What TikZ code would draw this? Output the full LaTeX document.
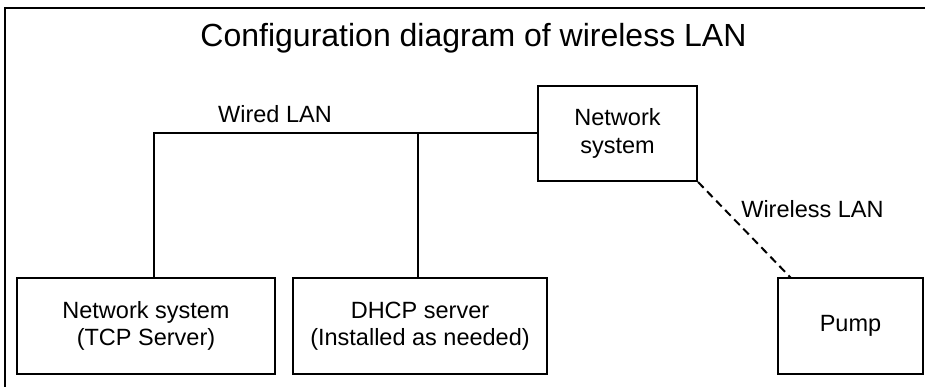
\documentclass[tikz,border=0pt]{standalone}
\usepackage{fontspec}
\setmainfont{Liberation Sans}
\begin{document}
\begin{tikzpicture}[x=1pt,y=-1pt,
  box/.style={draw,line width=2pt,inner sep=0pt,align=center,
    font=\fontsize{23.5}{27.5}\selectfont},
  lbl/.style={inner sep=0pt,anchor=base,font=\fontsize{23.5}{27}\selectfont},
  wire/.style={line width=2pt},
  radio/.style={line width=2pt,dash pattern=on 8pt off 5pt}]
\useasboundingbox (0,0) rectangle (925,387);
\draw[line width=2pt] (5,8) rectangle (940,400);
\node[lbl,font=\fontsize{32}{36}\selectfont] (title) at (473.5,47) {Configuration diagram of wireless LAN};
\node[box,minimum width=159pt,minimum height=95pt] (top) at (617.5,133.5) {Network\\system};
\node[box,minimum width=258pt,minimum height=96pt] (b1) at (146,326) {Network system\\(TCP Server)};
\node[box,minimum width=254pt,minimum height=96pt] (b2) at (420,326) {DHCP server\\(Installed as needed)};
\node[box,minimum width=145pt,minimum height=96pt] (pump) at (850.5,326) {Pump};
\coordinate (j1) at (154,133.5);
\coordinate (j2) at (418,133.5);
\coordinate (pend) at (791,278);
\draw[wire] (j1 |- b1.north) -- (j1) -- (top.west);
\draw[wire] (j2 |- b2.north) -- (j2);
\draw[radio] (top.south east) -- (pend);
\node[lbl] (wired) at (275,123) {Wired LAN};
\node[lbl] (wireless) at (812.5,218) {Wireless LAN};
\end{tikzpicture}
\end{document}
